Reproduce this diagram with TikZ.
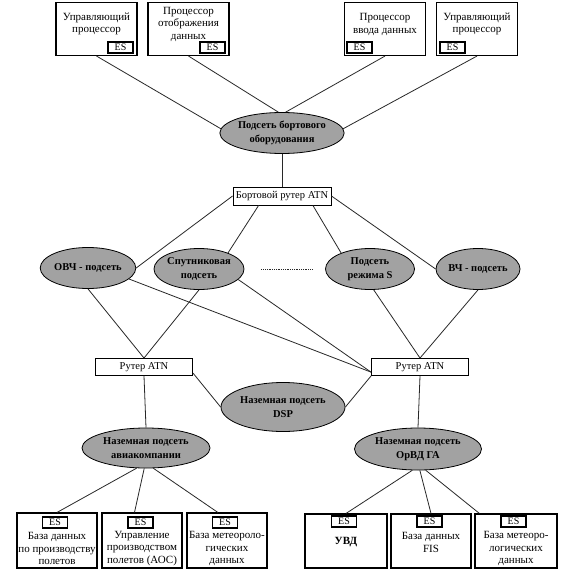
\documentclass[tikz,border=0pt]{standalone}
\usepackage{fontspec}
\setmainfont{Liberation Serif}
\usetikzlibrary{shapes.geometric}

\definecolor{subnetgray}{RGB}{162,162,162}
\definecolor{linkgray}{RGB}{40,40,40}

\tikzset{
  box/.style={draw, line width=1.1pt, minimum width=81pt, minimum height=53pt, inner sep=0pt},
  es/.style={draw, line width=1.1pt, minimum width=25pt, minimum height=11pt, inner sep=0pt,
    font=\fontsize{10}{10}\selectfont},
  subnet/.style={ellipse, draw, line width=0.8pt, fill=subnetgray, inner sep=0pt, align=center,
    font=\fontsize{10.5}{13.5}\selectfont\bfseries},
  router/.style={draw, line width=0.9pt, fill=white, inner sep=0pt, minimum height=18pt,
    font=\fontsize{10.5}{12}\selectfont},
  txt/.style={align=center, inner sep=0pt, font=\fontsize{11}{12.5}\selectfont},
  link/.style={line width=0.8pt, linkgray},
}

\begin{document}
\begin{tikzpicture}[x=1pt,y=-1pt]
\fill[white] (0,0) rectangle (563,572);
\useasboundingbox (0,0) rectangle (563,572);

% Onboard end systems
\node[box] (cpuL) at (96.5,29) {};
\node[box] (disp) at (188.5,29) {};
\node[box] (inp) at (385,29) {};
\node[box] (cpuR) at (477,29) {};
\node[txt] (cpuLtxt) at (96.5,24) {Управляющий\\процессор};
\node[txt] (disptxt) at (188.5,24) {Процессор\\отображения\\данных};
\node[txt] (inptxt) at (385,24.5) {Процессор\\ввода данных};
\node[txt] (cpuRtxt) at (477,24) {Управляющий\\процессор};
\node[es] (cpuLes) at (120.5,47.5) {ES};
\node[es] (dispes) at (212.5,47.5) {ES};
\node[es] (inpes) at (359.5,47.5) {ES};
\node[es] (cpuRes) at (452.5,47.5) {ES};

% Onboard subnet and router
\node[subnet, minimum width=108pt, minimum height=41pt] (obor) at (282,133) {Подсеть бортового\\оборудования};
\node[router, minimum width=98pt] (brouter) at (282,196) {Бортовой рутер ATN};

% Air-ground subnets
\node[subnet, minimum width=90pt, minimum height=41pt] (ovch) at (88,268) {ОВЧ - подсеть};
\node[subnet, minimum width=88pt, minimum height=41pt] (sput) at (199,269) {Спутниковая\\подсеть};
\node[subnet, minimum width=89pt, minimum height=41pt] (rezS) at (370,269) {Подсеть\\режима S};
\node[subnet, minimum width=83pt, minimum height=41pt] (vch) at (478,269) {ВЧ - подсеть};

% Ground routers and subnets
\node[router, minimum width=97pt, minimum height=17pt] (rtA) at (144,367) {Рутер ATN};
\node[router, minimum width=97pt, minimum height=17pt] (rtB) at (420,367) {Рутер ATN};
\node[subnet, minimum width=124pt, minimum height=49pt] (dsp) at (283,407) {Наземная подсеть\\DSP};
\node[subnet, minimum width=128pt, minimum height=40pt] (avia) at (146,448) {Наземная подсеть\\авиакомпании};
\node[subnet, minimum width=127pt, minimum height=42pt] (orvd) at (418,449) {Наземная подсеть\\ОрВД ГА};

% Ground end systems
\node[box, minimum width=80pt, minimum height=55pt] (lb1) at (57,540.5) {};
\node[box, minimum width=80pt, minimum height=55pt] (lb2) at (142,540.5) {};
\node[box, minimum width=80pt, minimum height=55pt] (lb3) at (227,540.5) {};
\node[box, minimum width=82pt, minimum height=54pt] (rb1) at (346,541) {};
\node[box, minimum width=80pt, minimum height=54pt] (rb2) at (431,541) {};
\node[box, minimum width=82pt, minimum height=54pt] (rb3) at (516,541) {};
\node[es] (lb1es) at (55,522.5) {ES};
\node[es] (lb2es) at (140.5,522.5) {ES};
\node[es] (lb3es) at (225,522.5) {ES};
\node[es] (rb1es) at (344,521.5) {ES};
\node[es] (rb2es) at (429.5,521.5) {ES};
\node[es] (rb3es) at (513.5,521.5) {ES};
\node[txt] (lb1txt) at (57,548.5) {База данных\\по производству\\полетов};
\node[txt] (lb2txt) at (142,548.5) {Управление\\производством\\полетов (АОС)};
\node[txt] (lb3txt) at (227,548.5) {База метеороло-\\гических\\данных};
\node[txt, font=\fontsize{11}{12.5}\selectfont\bfseries] (rb1txt) at (346,542) {УВД};
\node[txt] (rb2txt) at (431,542.5) {База данных\\FIS};
\node[txt] (rb3txt) at (516,548.5) {База метеоро-\\логических\\данных};

% Connectors
\draw[link] (cpuL.south) -- (obor.176);
\draw[link] (disp.south) -- (obor.100);
\draw[link] (inp.south) -- (obor.80);
\draw[link] (cpuR.south) -- (obor.4);
\draw[link] (obor.south) -- (brouter.north);
\draw[link] (brouter.west) -- (ovch.east);
\draw[link] (brouter.202) -- (sput.29);
\draw[link] (brouter.-17) -- (rezS.151);
\draw[link] (brouter.east) -- (vch.west);
\draw[link, densely dotted, shorten <=17pt, shorten >=13pt] (sput.east) -- (rezS.west);
\draw[link] (ovch.south) -- (rtA.north);
\draw[link] (sput.south) -- (rtA.north);
\draw[link] (ovch.-15) -- (rtB.186);
\draw[link] (sput.-15) -- (rtB.186);
\draw[link] (rezS.-80) -- (rtB.north);
\draw[link] (vch.south) -- (rtB.north);
\draw[link] (rtA.-7) -- (dsp.west);
\draw[link] (rtB.south west) -- (dsp.east);
\draw[link] (rtA.south) -- (avia.north);
\draw[link] (rtB.south) -- (orvd.north);
\draw[link] (avia.-115) -- (lb1.north);
\draw[link] (avia.-95) -- (lb2.105);
\draw[link] (avia.-70) -- (lb3.108);
\draw[link] (orvd.-105) -- (rb1.north);
\draw[link] (orvd.-85) -- (rb2.north);
\draw[link] (orvd.-70) -- (rb3.143);
\end{tikzpicture}
\end{document}
